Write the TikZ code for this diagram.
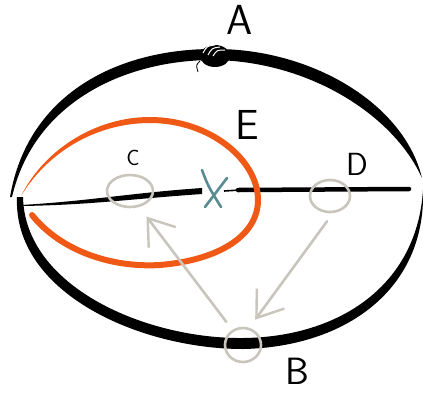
\documentclass[tikz,border=0pt]{standalone}
\usepackage{tikz}
\usetikzlibrary{positioning}
\usetikzlibrary{arrows.meta}
\usetikzlibrary{shapes.geometric}
\definecolor{loopred}{RGB}{240,88,22}
\definecolor{pencilgray}{RGB}{200,197,188}
\definecolor{xteal}{RGB}{88,140,146}
\tikzset{
  letter/.style={font=\sffamily\fontsize{42}{42}\selectfont, inner sep=0pt},
  ring/.style={ellipse, draw=pencilgray, line width=2.6pt, inner sep=0pt},
  grayarrow/.style={draw=pencilgray, line width=2.6pt, line cap=round,
    -{Straight Barb[length=24pt,width=34pt,line width=2.4pt]}},
}

\begin{document}
\begin{tikzpicture}[x=1pt,y=-1pt]
      \useasboundingbox[fill=white] (0,0) rectangle (423,392);
      % the big ellipse, drawn as two tapered strokes
      \fill (10,197) .. controls (28,92) and (120,49) .. (213,49)
        .. controls (310,48) and (404,103) .. (422,178)
        .. controls (393,114) and (308,61) .. (213,60)
        .. controls (125,60) and (34,102) .. (12,197) -- cycle;% Top Arc
      \fill (17,197) .. controls (13,293) and (140,349) .. (243,349)
        .. controls (345,347) and (426,290) .. (423,190)
        .. controls (417,285) and (340,337) .. (243,338)
        .. controls (146,339) and (25,287) .. (23,197) -- cycle;% Bottom Arc
      \fill (215,56) ellipse (15pt and 11pt);% knot
      \draw[white, line width=1pt] (203,53) .. controls (207,46) .. (215,45);
      \draw[white, line width=1pt] (208,55) .. controls (212,48) .. (220,47);
      \draw[white, line width=1pt] (213,56) .. controls (217,50) .. (225,50);
      \draw[line width=0.8pt] (200,61) .. controls (196,65) .. (198,72);
      % the axis
      \fill (21,205) .. controls (90,201) and (130,193) .. (202,188)
        -- (202,194) .. controls (130,199) and (90,205) .. (21,206) -- cycle;
      \draw[line width=4.5pt, line cap=round] (238,190) -- (409,189);
      \draw[line width=1.6pt] (224,191) -- (240,190);
      % the loop
      \draw[loopred, line width=6pt, line cap=round] (32,215)
        .. controls (60,250) and (110,268) .. (160,265)
        .. controls (220,260) and (258,235) .. (258,200)
        .. controls (258,160) and (210,120) .. (150,120);
      \fill[loopred] (150,117) .. controls (95,117) and (44,150) .. (21,196)
        .. controls (47,153) and (95,123) .. (150,123) -- cycle;
      % the centre mark
      \draw[xteal, line width=2.6pt, line cap=round]
        (202,170) .. controls (208,186) .. (221,207);
      \draw[xteal, line width=2.6pt, line cap=round] (227,178) -- (205,207);
      % the three points
      \node[ring, minimum width=46pt, minimum height=32pt] (ringC) at (130,191) {};
      \node[ring, minimum width=40pt, minimum height=32pt] (ringD) at (330,196) {};
      \node[ring, minimum width=36pt, minimum height=34pt] (ringB) at (243,345) {};
      \draw[grayarrow, shorten <=10pt, shorten >=12pt] (ringB.125) -- (ringC.-60);
      \draw[grayarrow, shorten <=10pt, shorten >=10pt] (ringD.-80) -- (ringB.70);
      % labels
      \node[letter] (labA) at (240,20) {A};
      \node[letter, font=\sffamily\fontsize{22}{22}\selectfont] (labC) at (133,158) {C};
      \node[letter, font=\sffamily\fontsize{32}{32}\selectfont] (labD) at (357,164) {D};
      \node[letter] (labE) at (247,125) {E};
      \node[letter, font=\sffamily\fontsize{38}{38}\selectfont] (labB) at (297,371) {B};
\end{tikzpicture}
\end{document}
